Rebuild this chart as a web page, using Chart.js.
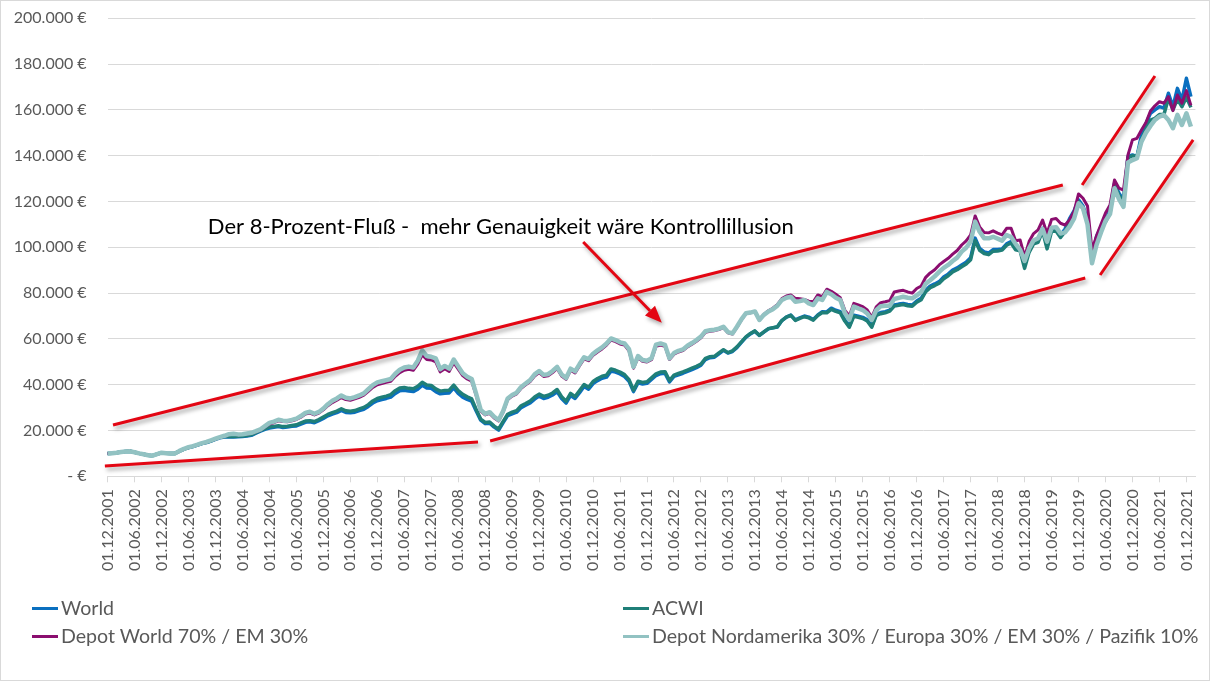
<!DOCTYPE html>
<html lang="de">
<head>
<meta charset="utf-8">
<title>Der 8-Prozent-Fluß</title>
<script src="https://cdn.jsdelivr.net/npm/chart.js@4.4.1/dist/chart.umd.min.js"></script>
<style>
  body { margin: 0; background: #fff; }
  #wrap { position: relative; width: 1210px; height: 681px; background: #fff; }
  #frame { position: absolute; left: 0; top: 0; width: 1208px; height: 679px; border: 1px solid #d9d9d9; pointer-events: none; }
  .lg { position: absolute; font: 19.6px Lato, sans-serif; color: #595959; white-space: nowrap; line-height: 22px; }
  .lg i { position: absolute; left: -29px; top: 9.5px; width: 26px; height: 3px; }
</style>
</head>
<body>
<div id="wrap">
  <canvas id="chart" width="1210" height="681"></canvas>
  <div id="frame"></div>
  <div class="lg" style="left:61px;top:597px"><i style="background:#0a6fbf"></i>World</div>
  <div class="lg" style="left:652px;top:597px"><i style="background:#1f7f78"></i>ACWI</div>
  <div class="lg" style="left:61px;top:625px"><i style="background:#8b0e6f"></i>Depot World 70% / EM 30%</div>
  <div class="lg" style="left:652px;top:625px"><i style="background:#92c2c2"></i>Depot Nordamerika 30% / Europa 30% / EM 30% / Pazifik 10%</div>
</div>
<script>
// monthly values 01.12.2001 - 01.01.2022, axis runs one month further

const world = [
  10000,10100,10300,10600,10800,10900,10500,10000,9600,9200,
  9000,9700,10300,10100,10000,10000,11000,11900,12500,13000,
  13600,14300,14700,15400,16100,16800,17200,17300,17200,17300,
  17400,17600,17900,18800,19700,20500,21100,21400,21700,21300,
  21500,21800,22000,22800,23600,23800,23400,24300,25300,26400,
  27200,27800,28800,27900,27700,28000,28700,29300,30500,32000,
  33000,33500,34000,34600,36200,37400,37600,37200,37000,38000,
  39800,38600,38400,37000,36000,36300,36400,38600,36200,34600,
  33600,32800,28500,24500,23000,23200,21500,20200,23500,26500,
  27300,28000,30000,31000,32000,33700,35000,34000,34500,35500,
  37000,34000,32000,35300,34000,36500,39200,38000,40500,41800,
  42800,43300,46000,45500,44700,43600,41500,37000,40800,40300,
  40600,42300,44000,44800,45000,41200,43600,44300,45000,45800,
  46600,47400,48500,51000,51800,52000,53500,55000,53800,54500,
  56200,58500,60700,62200,63300,61500,63000,64400,64800,65200,
  68000,69500,70400,68300,69200,70000,69500,68500,70500,71900,
  71800,73400,72500,71900,68300,65600,70400,69900,69400,68300,
  65600,70800,71500,71900,72600,74800,75200,75500,75000,74800,
  76500,77700,81200,83100,84000,85000,87000,88300,90100,91000,
  92300,93500,95500,104000,99500,98000,97500,99000,99000,99300,
  101500,102500,99600,99300,92300,98800,102500,103200,108300,100300,
  108300,108300,105400,108000,112500,115900,120700,118000,112000,95900,
  104700,109000,112000,115900,128000,123600,120700,139600,140300,139600,
  149000,154000,158500,160000,161400,160800,167300,161400,169400,164300,
  173800,165800
];

const acwi = [
  10000,10100,10300,10600,10800,10900,10500,10000,9600,9200,
  9000,9700,10300,10100,10000,10000,11000,11900,12500,13100,
  13700,14400,14800,15500,16300,17000,17400,17500,17400,17500,
  17600,17800,18200,19100,20000,20800,21500,21800,22100,21700,
  21900,22200,22500,23300,24100,24300,23900,24800,25900,27000,
  27800,28500,29500,28600,28400,28700,29400,30100,31300,32900,
  34000,34500,35000,35700,37400,38600,38800,38400,38200,39300,
  41100,39900,39700,38200,37200,37500,37600,39800,37400,35800,
  34700,33800,29200,25000,23500,23700,21900,20700,24000,27100,
  28000,28700,30800,31800,32900,34600,35900,34900,35400,36400,
  37900,34800,32800,36200,34800,37400,40100,38900,41400,42700,
  43700,44200,46900,46300,45500,44400,42200,37600,41500,41000,
  41300,43000,44700,45500,45700,41800,44200,44900,45600,46400,
  47200,48000,49000,51500,52200,52400,53900,55300,54000,54800,
  56500,58700,60900,62400,63500,61600,63100,64500,64900,65300,
  68000,69500,70300,68100,69000,69700,69200,68200,70200,71500,
  71400,72900,72000,71400,67800,65100,69900,69400,68900,67800,
  65100,70300,71000,71400,72100,74300,74700,75000,74500,74300,
  76000,77100,80600,82400,83300,84300,86300,87600,89300,90200,
  91500,92700,94600,103000,98700,97300,96800,98300,98400,98800,
  100900,101900,98900,98500,90800,97800,101500,102200,107200,99300,
  107000,107100,104300,106800,111300,114800,119900,117000,111000,95500,
  104200,108200,111100,114900,126800,122600,120000,139000,140000,139800,
  146900,151500,155500,156300,158000,158000,165100,160000,164600,161400,
  165500,161100
];

const depotWorldEm = [
  10000,10100,10300,10600,10800,10900,10500,10000,9600,9200,
  9000,9700,10300,10100,10000,10000,11100,12000,12600,13100,
  13700,14400,14900,15600,16300,17000,17500,18200,18400,18100,
  18200,18500,18800,19400,20200,21500,22800,23400,24200,23900,
  23800,24200,24800,25800,27200,27600,26800,27600,29000,30800,
  32200,33200,34400,33500,33200,33800,34500,35400,37100,38800,
  40000,40500,41000,41500,43700,45300,46300,46700,46300,49000,
  53000,51000,50800,50000,45600,47000,45800,49600,46800,44000,
  42500,41500,35300,28500,26800,27500,25500,24200,28100,33500,
  35000,36000,38400,39900,41400,43800,45300,43600,43900,45300,
  47100,43800,42300,46300,45100,48300,51300,50500,52800,54300,
  55600,57300,59500,58800,57800,57300,54800,47200,51800,50200,
  49900,50900,56800,57300,56800,51000,53300,54300,54900,56500,
  57700,59000,60500,62900,63300,63600,64100,64900,62700,62100,
  65000,68300,71000,71400,72000,68400,70700,72300,73400,75000,
  77600,78700,79200,77700,77500,77200,76500,76200,79200,78400,
  81700,80800,79500,78000,72600,70000,75500,74800,74100,72600,
  69400,74000,75800,76200,76700,80500,80900,81200,80500,80000,
  82000,83100,86900,88800,90200,92300,93800,95200,97000,98600,
  101000,102800,105400,113700,108900,106500,106300,107200,106200,105400,
  108300,108300,102900,103200,95900,102500,106000,107600,111900,106000,
  112200,112600,110500,109700,111900,115600,123300,121400,118000,98800,
  105000,110000,115000,118500,129400,125800,125000,140300,146900,147600,
  151200,154500,159500,161800,163600,162900,165800,159700,166500,162900,
  168400,162000
];

const depotRegions = [
  10000,10100,10300,10600,10800,10900,10500,10000,9600,9200,
  9000,9700,10300,10100,10000,10000,11100,12000,12700,13200,
  13800,14500,15000,15700,16400,17100,17700,18400,18600,18300,
  18400,18700,19000,19700,20500,21900,23300,23900,24700,24300,
  24200,24600,25200,26300,27700,28200,27300,28100,29600,31500,
  33000,34000,35300,34300,34000,34600,35300,36200,38000,39800,
  41000,41500,42000,42500,44800,46500,47500,47900,47500,50500,
  55000,52500,52200,51500,46800,48200,47000,51000,48000,45000,
  43500,42500,36000,29000,27300,28000,26000,24600,28500,34000,
  35500,36500,39000,40500,42000,44500,46000,44300,44600,46000,
  47800,44500,42900,47000,45800,49000,52000,51200,53500,55000,
  56300,58000,60200,59500,58500,58000,55500,47800,52500,50800,
  50500,51500,57500,58000,57400,51500,53800,54800,55400,57000,
  58200,59500,61000,63400,63800,64000,64500,65300,63000,62400,
  65300,68500,71200,71500,72000,68300,70500,72000,73000,74500,
  77000,78000,78400,76200,76500,77000,75500,74800,77700,77000,
  80500,79500,78000,77000,71400,68300,74100,73300,72600,71100,
  68300,72500,74300,74500,74500,77400,77900,78400,78000,77700,
  79000,80500,84100,85600,87300,89300,91000,92300,94000,95500,
  98100,99800,102500,111200,106800,104000,103900,104600,103800,102900,
  105400,104500,101500,99000,94000,99500,103000,104000,108000,102500,
  108500,108800,106000,106500,109000,112500,119200,117000,110000,93000,
  101000,106500,111500,114500,125800,121000,117700,137000,138100,138900,
  146100,150000,153000,155600,157100,157800,155600,152000,157800,153400,
  158500,152700
];

const tickLabels = [
  '01.12.2001','01.06.2002','01.12.2002','01.06.2003','01.12.2003','01.06.2004','01.12.2004',
  '01.06.2005','01.12.2005','01.06.2006','01.12.2006','01.06.2007','01.12.2007','01.06.2008',
  '01.12.2008','01.06.2009','01.12.2009','01.06.2010','01.12.2010','01.06.2011','01.12.2011',
  '01.06.2012','01.12.2012','01.06.2013','01.12.2013','01.06.2014','01.12.2014','01.06.2015',
  '01.12.2015','01.06.2016','01.12.2016','01.06.2017','01.12.2017','01.06.2018','01.12.2018',
  '01.06.2019','01.12.2019','01.06.2020','01.12.2020','01.06.2021','01.12.2021'
];

// one category per month, from 01.12.2001 to 01.02.2022
const months = [];
for (let i = 0; i <= 242; i++) {
  const mm = (11 + i) % 12 + 1;
  const yy = 2001 + Math.floor((11 + i) / 12);
  months.push('01.' + String(mm).padStart(2, '0') + '.' + yy);
}

// hand drawn channel lines: [month, value, month, value]
const channelLines = [
  [1.2, 22400, 212.5, 127200],
  [-0.6, 4500, 82.4, 15000],
  [85.1, 15400, 217.5, 86600],
  [216.8, 127200, 233.0, 174800],
  [220.8, 87900, 241.5, 146900]
];
const arrow = [105.8, 102300, 123.3, 67000];
const note = { m: 22.3, v: 108900, text: 'Der 8-Prozent-Fluß -  mehr Genauigkeit wäre Kontrollillusion' };

const overlay = {
  id: 'overlay',
  afterDatasetsDraw(chart) {
    const { ctx, scales: { x, y } } = chart;
    const px = (m, v) => [x.getPixelForValue(m), y.getPixelForValue(v)];
    ctx.save();
    ctx.strokeStyle = '#e30613';
    ctx.fillStyle = '#e30613';
    ctx.lineWidth = 3;
    ctx.shadowColor = 'rgba(0,0,0,0.35)';
    ctx.shadowBlur = 4;
    ctx.shadowOffsetX = 2;
    ctx.shadowOffsetY = 3;
    channelLines.forEach(([m1, v1, m2, v2]) => {
      const [x1, y1] = px(m1, v1);
      const [x2, y2] = px(m2, v2);
      ctx.beginPath();
      ctx.moveTo(x1, y1);
      ctx.lineTo(x2, y2);
      ctx.stroke();
    });

    // arrow to the curves
    const [ax1, ay1] = px(arrow[0], arrow[1]);
    const [ax2, ay2] = px(arrow[2], arrow[3]);
    const ang = Math.atan2(ay2 - ay1, ax2 - ax1);
    const head = 17;
    const bx = ax2 - head * Math.cos(ang), by = ay2 - head * Math.sin(ang);
    ctx.beginPath();
    ctx.moveTo(ax1, ay1);
    ctx.lineTo(bx, by);
    ctx.stroke();
    ctx.beginPath();
    ctx.moveTo(ax2, ay2);
    ctx.lineTo(bx + 7 * Math.sin(ang), by - 7 * Math.cos(ang));
    ctx.lineTo(bx - 7 * Math.sin(ang), by + 7 * Math.cos(ang));
    ctx.closePath();
    ctx.fill();
    ctx.restore();

    ctx.save();
    const [tx, ty] = px(note.m, note.v);
    ctx.font = '22px Lato, sans-serif';
    ctx.fillStyle = '#000';
    ctx.textBaseline = 'middle';
    ctx.textAlign = 'left';
    ctx.fillText(note.text, tx, ty);
    ctx.restore();
  }
};

Chart.defaults.font.family = 'Lato, sans-serif';
Chart.defaults.color = '#595959';

const line = (label, data, color, width, order) => ({
  label, data, order,
  borderColor: color,
  backgroundColor: color,
  borderWidth: width,
  pointRadius: 0,
  tension: 0,
  borderJoinStyle: 'round',
  fill: false
});

new Chart(document.getElementById('chart'), {
  type: 'line',
  data: {
    labels: months,
    datasets: [
      line('World', world, '#0a6fbf', 3.5, 3),
      line('ACWI', acwi, '#1f7f78', 3.5, 2),
      line('Depot World 70% / EM 30%', depotWorldEm, '#8b0e6f', 3, 1),
      line('Depot Nordamerika 30% / Europa 30% / EM 30% / Pazifik 10%', depotRegions, '#92c2c2', 4.5, 0)
    ]
  },
  options: {
    responsive: false,
    animation: false,
    layout: { padding: { left: 0, right: 14.6, top: 18.3, bottom: 0 } },
    plugins: { legend: { display: false }, tooltip: { enabled: false } },
    scales: {
      x: {
        offset: false,
        grid: { drawOnChartArea: false, drawTicks: true, tickLength: 6, color: '#d9d9d9' },
        border: { color: '#d9d9d9' },
        ticks: {
          autoSkip: false,
          minRotation: 90,
          maxRotation: 90,
          padding: 7,
          font: { size: 16, lineHeight: 1 },
          color: '#595959',
          callback: (val, i) => (i % 6 === 0 ? tickLabels[i / 6] : null)
        },
        afterFit: (scale) => { scale.height = 204.7; }
      },
      y: {
        min: 0,
        max: 200000,
        grid: { color: '#d9d9d9', drawTicks: true, tickLength: 21, tickColor: 'rgba(0,0,0,0)' },
        border: { display: false },
        ticks: {
          stepSize: 20000,
          padding: 0,
          font: { size: 16 },
          color: '#595959',
          callback: (v) => (v === 0 ? '- €' : (v / 1000) + '.000 €')
        },
        afterFit: (scale) => { scale.width = 107.6; }
      }
    }
  },
  plugins: [overlay]
});
</script>
</body>
</html>
